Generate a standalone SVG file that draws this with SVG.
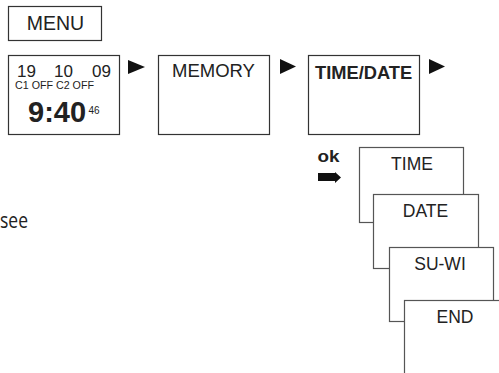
<svg xmlns="http://www.w3.org/2000/svg" width="499" height="373" viewBox="0 0 499 373">
<style>
.box{fill:#fff;stroke:#333;stroke-width:1.2}
.sbox{fill:#fff;stroke:#555;stroke-width:1.2}
.t{font-family:"Liberation Sans",Arial,sans-serif;fill:#222}
.tri{fill:#111}
</style>
<rect width="499" height="373" fill="#fff"/>
<g id="menu">
<rect class="box" x="8.5" y="6.5" width="93" height="34"/>
<text class="t" x="55.5" y="30" font-size="19.5" text-anchor="middle">MENU</text>
</g>
<g id="clock">
<rect class="box" x="8.5" y="55.5" width="111" height="79"/>
<text class="t" x="17" y="77" font-size="17">19</text>
<text class="t" x="54" y="77" font-size="17">10</text>
<text class="t" x="92" y="77" font-size="17">09</text>
<text class="t" x="15" y="88.5" font-size="10" textLength="79" lengthAdjust="spacingAndGlyphs">C1 OFF C2 OFF</text>
<text class="t" x="28" y="122" font-size="29" font-weight="bold">9:40</text>
<text class="t" x="88.5" y="114" font-size="10">46</text>
</g>
<g id="memory">
<rect class="box" x="158.5" y="55.5" width="111" height="79"/>
<text class="t" x="172" y="77" font-size="18.5">MEMORY</text>
</g>
<g id="timedate">
<rect class="box" x="308.5" y="55.5" width="111" height="79"/>
<text class="t" x="315" y="78.5" font-size="18.3" font-weight="bold">TIME/DATE</text>
</g>
<g id="time">
<rect class="sbox" x="359.5" y="147.5" width="104" height="75"/>
<text class="t" x="412" y="170" font-size="17.5" text-anchor="middle">TIME</text>
</g>
<g id="date">
<rect class="sbox" x="373.5" y="194.5" width="105" height="74"/>
<text class="t" x="425.5" y="217" font-size="17.5" text-anchor="middle">DATE</text>
</g>
<g id="suwi">
<rect class="sbox" x="389.5" y="247.5" width="104" height="74"/>
<text class="t" x="440" y="270" font-size="17.5" text-anchor="middle">SU-WI</text>
</g>
<g id="end">
<rect class="sbox" x="404.5" y="300.5" width="110" height="90"/>
<text class="t" x="455" y="323" font-size="17.5" text-anchor="middle">END</text>
</g>
<g id="connectors">
<polygon class="tri" points="128,60 145,67 128,74"/>
<polygon class="tri" points="280,59 296,66.5 280,74"/>
<polygon class="tri" points="429,59 445,66.5 429,74"/>
<polygon class="tri" points="318,173 335,173 335,172 341,177.5 335,183 335,181 318,181"/>
</g>
<text class="t" x="317.5" y="162" font-size="17" font-weight="bold" textLength="22" lengthAdjust="spacingAndGlyphs">ok</text>
<text x="0" y="228" font-family="'Open Sans','Noto Sans',sans-serif" font-size="22" fill="#222" textLength="28" lengthAdjust="spacingAndGlyphs">see</text>
</svg>
